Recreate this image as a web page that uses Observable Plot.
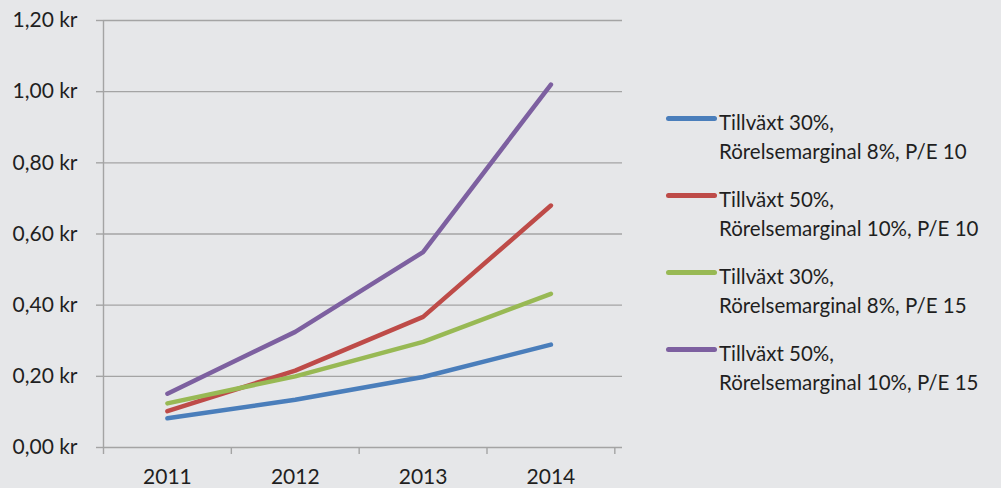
<!DOCTYPE html>
<html>
<head>
<meta charset="utf-8">
<script src="https://cdn.jsdelivr.net/npm/d3@7"></script>
<script src="https://cdn.jsdelivr.net/npm/@observablehq/plot@0.6"></script>
<style>
  html, body { margin: 0; padding: 0; background: #e6e7e9; }
  #wrap { position: relative; width: 1001px; height: 488px; overflow: hidden; font-family: Lato, "Open Sans", sans-serif; }
  #legend { position: absolute; left: 666px; top: 0; }
  .item { position: absolute; left: 0; width: 340px; }
  .swatch { position: absolute; left: 0; width: 51px; height: 4.5px; border-radius: 3px; }
  .label { position: absolute; left: 53px; font-size: 20.5px; line-height: 29px; color: #1f1f1f; white-space: nowrap; }
</style>
</head>
<body>
<div id="wrap"><div id="chart"></div><div id="legend"></div></div>
<script>
const years = [2011, 2012, 2013, 2014];
const seriesNames = [
  ["Tillväxt 30%,", "Rörelsemarginal 8%, P/E 10"],
  ["Tillväxt 50%,", "Rörelsemarginal 10%, P/E 10"],
  ["Tillväxt 30%,", "Rörelsemarginal 8%, P/E 15"],
  ["Tillväxt 50%,", "Rörelsemarginal 10%, P/E 15"]
];
const colors = ["#4a7ebb", "#be4b48", "#98b954", "#7d60a0"];
const blueValues   = [0.082, 0.134, 0.198, 0.289];
const redValues    = [0.102, 0.216, 0.367, 0.680];
const greenValues  = [0.124, 0.200, 0.297, 0.432];
const purpleValues = [0.151, 0.325, 0.549, 1.020];
const yTicks = [0, 0.2, 0.4, 0.6, 0.8, 1.0, 1.2];
const xBoundaries = [2010.5, 2011.5, 2012.5, 2013.5, 2014.5];

const allSeries = [blueValues, redValues, greenValues, purpleValues];
const rows = [];
allSeries.forEach((vals, i) => vals.forEach((v, j) => rows.push({series: i, year: years[j], value: v})));

const fmt = d => d.toFixed(2).replace(".", ",") + " kr";
const gridColor = "#a4a4a4";

const chart = Plot.plot({
  width: 1001,
  height: 488,
  marginLeft: 103,
  marginRight: 379,
  marginTop: 20,
  marginBottom: 41,
  style: { background: "transparent", fontFamily: "Lato, 'Open Sans', sans-serif", color: "#1f1f1f" },
  x: { type: "linear", domain: [2010.5, 2014.56], range: [103, 622], label: null },
  y: { domain: [0, 1.2], label: null },
  marks: [
    Plot.ruleY(yTicks, { y: d => d, stroke: gridColor, strokeWidth: 1.4 }),
    Plot.ruleX([2010.5], { stroke: gridColor, strokeWidth: 1.4 }),
    Plot.axisY({ ticks: yTicks, tickFormat: fmt, tickSize: 7, tickPadding: 19, stroke: gridColor, strokeWidth: 1.4, fontSize: 21, fill: "#1f1f1f", label: null }),
    Plot.axisX({ ticks: xBoundaries, tickFormat: () => "", tickSize: 7, stroke: gridColor, strokeWidth: 1.4, label: null }),
    Plot.axisX({ ticks: years, tickFormat: d => String(d), tickSize: 0, tickPadding: 22, fontSize: 21, fill: "#1f1f1f", label: null }),
    ...allSeries.map((vals, i) =>
      Plot.line(rows.filter(r => r.series === i), { x: "year", y: "value", stroke: colors[i], strokeWidth: 4.5, strokeLinecap: "round", strokeLinejoin: "round" })
    )
  ]
});
document.getElementById("chart").appendChild(chart);

const legend = document.getElementById("legend");
const lineYs = [118, 195, 272, 349];
seriesNames.forEach((name, i) => {
  const item = document.createElement("div");
  item.className = "item";
  item.style.top = (lineYs[i]) + "px";
  const sw = document.createElement("div");
  sw.className = "swatch";
  sw.style.background = colors[i];
  sw.style.top = "-2px";
  const lab = document.createElement("div");
  lab.className = "label";
  lab.style.top = "-10px";
  lab.innerHTML = name[0] + "<br>" + name[1];
  item.appendChild(sw);
  item.appendChild(lab);
  legend.appendChild(item);
});
</script>
</body>
</html>
